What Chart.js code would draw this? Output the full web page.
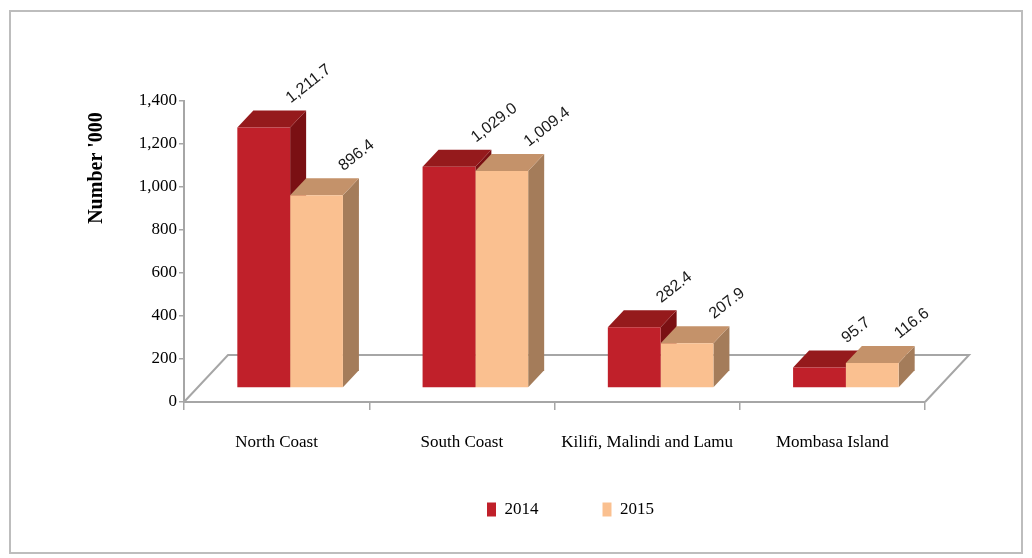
<!DOCTYPE html>
<html>
<head>
<meta charset="utf-8">
<script src="https://cdn.jsdelivr.net/npm/chart.js@4.4.1/dist/chart.umd.min.js"></script>
<style>
html, body { margin: 0; padding: 0; background: #fff; }
#cadre { position: relative; width: 1032px; height: 558px; }
</style>
</head>
<body>
<div id="cadre"><canvas id="GraphiqueVisiteurs" width="1032" height="558"></canvas></div>
<script>
var regions = ["North Coast", "South Coast", "Kilifi, Malindi and Lamu", "Mombasa Island"];
var annees = ["2014", "2015"];
var valeurs2014 = [1211.7, 1029.0, 282.4, 95.7];
var valeurs2015 = [896.4, 1009.4, 207.9, 116.6];
var graduationsY = [0, 200, 400, 600, 800, 1000, 1200, 1400];
var titreAxeY = "Number '000";

var policeSerif = "'Liberation Serif', 'Times New Roman', serif";
var gris = '#a6a6a6';

// decalage des faces avant (effet 3D) et profondeur des barres
var decalage = { x: 13.5, y: -14 };
var profondeur = { x: 16, y: -17 };
var sol = { x: 44, y: -47 };

function Polygone(ctx, points, couleur) {
    ctx.fillStyle = couleur;
    ctx.beginPath();
    ctx.moveTo(points[0][0], points[0][1]);
    for (var i = 1; i < points.length; i++) {
        ctx.lineTo(points[i][0], points[i][1]);
    }
    ctx.closePath();
    ctx.fill();
}

function FormatValeur(v) {
    return v.toLocaleString('en-US', { minimumFractionDigits: 1, maximumFractionDigits: 1 });
}

var barres3D = {
    id: 'barres3D',
    beforeDraw: function (chart) {
        var ctx = chart.ctx;
        ctx.save();
        ctx.strokeStyle = '#bdbdbd';
        ctx.lineWidth = 2;
        ctx.strokeRect(10, 11, 1012, 542);
        ctx.restore();
    },
    afterLayout: function (chart) {
        chart.legend.left = 109;
        chart.legend.right = 1032;
        chart.legend.top = 437;
        chart.legend.bottom = 528;
    },
    beforeDatasetsDraw: function (chart) {
        var ctx = chart.ctx;
        var zone = chart.chartArea;

        ctx.save();
        ctx.strokeStyle = gris;
        ctx.lineWidth = 2;
        ctx.beginPath();
        ctx.moveTo(zone.left, zone.bottom);
        ctx.lineTo(zone.left + sol.x, zone.bottom + sol.y);
        ctx.lineTo(zone.right + sol.x, zone.bottom + sol.y);
        ctx.lineTo(zone.right, zone.bottom);
        ctx.stroke();
        ctx.restore();

        chart.data.datasets.forEach(function (ds, i) {
            var meta = chart.getDatasetMeta(i);
            meta.data.forEach(function (barre) {
                var g = barre.x - barre.width / 2 + decalage.x;
                var d = barre.x + barre.width / 2 + decalage.x;
                var h = barre.y + decalage.y;
                var b = barre.base + decalage.y;
                Polygone(ctx, [[d, h], [d + profondeur.x, h + profondeur.y], [d + profondeur.x, b + profondeur.y], [d, b]], ds.couleurCote);
                Polygone(ctx, [[g, h], [g + profondeur.x, h + profondeur.y], [d + profondeur.x, h + profondeur.y], [d, h]], ds.couleurDessus);
            });
        });

        ctx.save();
        ctx.translate(decalage.x, decalage.y);
    },
    afterDatasetsDraw: function (chart) {
        var ctx = chart.ctx;
        ctx.restore();

        ctx.save();
        ctx.font = "16px 'Liberation Sans', Arial, sans-serif";
        ctx.fillStyle = '#1a1a1a';
        ctx.textAlign = 'left';
        ctx.textBaseline = 'alphabetic';
        chart.data.datasets.forEach(function (ds, i) {
            var meta = chart.getDatasetMeta(i);
            meta.data.forEach(function (barre, j) {
                var x = barre.x + decalage.x + 27;
                var y = barre.y + decalage.y - 24;
                ctx.save();
                ctx.translate(x, y);
                ctx.rotate(-38 * Math.PI / 180);
                ctx.fillText(FormatValeur(ds.data[j]), 0, 0);
                ctx.restore();
            });
        });
        ctx.restore();
    },
    afterDraw: function (chart) {
        var ctx = chart.ctx;
        ctx.save();
        ctx.font = "bold 20px " + policeSerif;
        ctx.fillStyle = '#000';
        ctx.textAlign = 'center';
        ctx.textBaseline = 'middle';
        ctx.translate(97, 168);
        ctx.rotate(-Math.PI / 2);
        ctx.fillText(titreAxeY, 0, 0);
        ctx.restore();
    }
};

var ctx = document.getElementById('GraphiqueVisiteurs').getContext('2d');

var graphique = new Chart(ctx, {
    type: 'bar',
    data: {
        labels: regions,
        datasets: [
            {
                label: annees[0],
                data: valeurs2014,
                backgroundColor: '#c0202a',
                couleurDessus: '#951a1c',
                couleurCote: '#7a1013',
                borderWidth: 0,
                categoryPercentage: 0.57,
                barPercentage: 1.0,
                clip: false
            },
            {
                label: annees[1],
                data: valeurs2015,
                backgroundColor: '#fac090',
                couleurDessus: '#c4926a',
                couleurCote: '#a47c5a',
                borderWidth: 0,
                categoryPercentage: 0.57,
                barPercentage: 1.0,
                clip: false
            }
        ]
    },
    options: {
        responsive: false,
        animation: false,
        layout: {
            padding: { top: 101, right: 107, bottom: 13, left: 0 }
        },
        plugins: {
            tooltip: { enabled: false },
            legend: {
                position: 'bottom',
                labels: {
                    boxWidth: 9,
                    boxHeight: 14,
                    padding: 64,
                    color: '#000',
                    font: { family: policeSerif, size: 17 }
                }
            }
        },
        scales: {
            x: {
                afterFit: function (axe) { axe.height = 52; },
                grid: { drawOnChartArea: false, tickLength: 8, color: gris, lineWidth: 1.5, offset: true },
                border: { color: gris, width: 2 },
                ticks: {
                    color: '#000',
                    padding: 22,
                    maxRotation: 0,
                    autoSkip: false,
                    font: { family: policeSerif, size: 17 }
                }
            },
            y: {
                min: 0,
                max: 1400,
                afterFit: function (axe) { axe.width = 184; },
                afterBuildTicks: function (axe) {
                    axe.ticks = graduationsY.map(function (v) { return { value: v }; });
                },
                grid: { drawOnChartArea: false, tickLength: 5, color: gris, lineWidth: 1.5 },
                border: { color: gris, width: 2 },
                ticks: {
                    color: '#000',
                    padding: 2,
                    font: { family: policeSerif, size: 17 },
                    callback: function (v) { return v.toLocaleString('en-US'); }
                }
            }
        }
    },
    plugins: [barres3D]
});
</script>
</body>
</html>
